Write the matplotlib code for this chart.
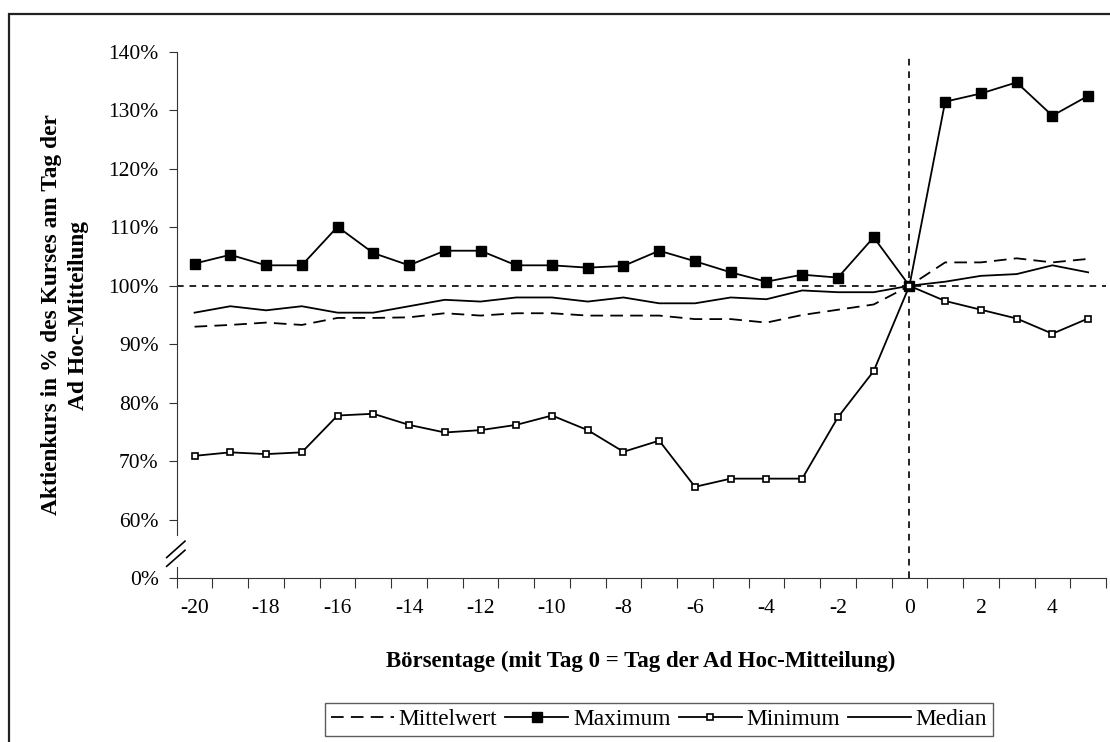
import matplotlib
matplotlib.use("Agg")
import matplotlib.pyplot as plt
from matplotlib.patches import Rectangle
from matplotlib.lines import Line2D
import matplotlib.transforms as mtransforms

plt.rcParams['font.family'] = ['Liberation Serif', 'DejaVu Serif']

days = list(range(-20, 6))
mittelwert = [93.0, 93.3, 93.7, 93.3, 94.5, 94.5, 94.6, 95.3, 94.9, 95.3, 95.3,
              94.9, 94.9, 94.9, 94.3, 94.3, 93.7, 95.0, 95.9, 96.8, 100.0,
              104.0, 104.0, 104.7, 104.0, 104.6]
maximum = [103.8, 105.3, 103.5, 103.5, 110.1, 105.6, 103.5, 106.0, 106.0, 103.5, 103.5,
           103.1, 103.4, 106.0, 104.2, 102.3, 100.7, 101.9, 101.4, 108.3, 100.0,
           131.5, 132.9, 134.8, 129.1, 132.5]
minimum = [70.9, 71.5, 71.2, 71.5, 77.8, 78.1, 76.2, 74.9, 75.3, 76.2, 77.8,
           75.3, 71.6, 73.5, 65.6, 67.0, 67.0, 67.0, 77.5, 85.4, 100.0,
           97.4, 95.9, 94.4, 91.8, 94.4]
median = [95.4, 96.5, 95.8, 96.5, 95.4, 95.4, 96.5, 97.6, 97.3, 98.0, 98.0,
          97.3, 98.0, 97.0, 97.0, 98.0, 97.7, 99.2, 98.9, 98.9, 100.0,
          100.7, 101.7, 102.0, 103.5, 102.3]

ytick_vals = [50, 60, 70, 80, 90, 100, 110, 120, 130, 140]
ytick_labels = ['0%', '60%', '70%', '80%', '90%', '100%', '110%', '120%', '130%', '140%']
xtick_label_days = [-20, -18, -16, -14, -12, -10, -8, -6, -4, -2, 0, 2, 4]

W, H = 1110, 742
fig = plt.figure(figsize=(W / 100, H / 100), dpi=100)
fig.patch.set_facecolor('white')

# outer border
fig.add_artist(Rectangle((9 / W, -0.05), 1.2, 1 - 14 / H + 0.05, transform=fig.transFigure,
                         fill=False, edgecolor='#222222', linewidth=1.6))

ax = fig.add_axes([176.7 / W, 1 - 578 / H, (1106 - 176.7) / W, (578 - 52) / H])
ax.set_xlim(-20.5, 5.5)
ax.set_ylim(50, 140)

ax.axhline(100, color='black', lw=1.2, ls=(0, (4, 3.5)), zorder=1)
ax.axvline(0, ymin=0, ymax=0.99, color='black', lw=1.2, ls=(0, (4, 3.5)), zorder=1)

lw = 1.3
ax.plot(days, mittelwert, color='black', lw=lw, ls=(0, (7, 4)), zorder=3, label='Mittelwert')
ax.plot(days, maximum, color='black', lw=lw, marker='s', ms=6.5, mfc='black', mec='black',
        zorder=4, label='Maximum')
ax.plot(days, minimum, color='black', lw=lw, marker='s', ms=5, mfc='white', mec='black',
        mew=1.2, zorder=4, label='Minimum')
ax.plot(days, median, color='black', lw=lw, zorder=3, label='Median')

for s in ['top', 'right']:
    ax.spines[s].set_visible(False)
ax.spines['left'].set_bounds(57.4, 140)
ax.spines['left'].set_color('#333333')
ax.spines['bottom'].set_color('#333333')

# lower stub of broken y-axis and break marks
tr = mtransforms.blended_transform_factory(ax.transAxes, ax.transData)
ax.add_line(Line2D([0, 0], [50, 51.8], transform=tr, color='#333333', lw=0.8, clip_on=False))
ax.add_line(Line2D([-0.0108, 0.0089], [53.5, 56.3], transform=tr, color='black', lw=1.2, clip_on=False))
ax.add_line(Line2D([-0.0108, 0.0089], [52.0, 54.75], transform=tr, color='black', lw=1.2, clip_on=False))

ax.set_yticks(ytick_vals)
ax.set_yticklabels(ytick_labels)
ax.tick_params(axis='y', direction='out', length=6, width=0.8, pad=7, labelsize=15.5,
               colors='#333333', labelcolor='black')

major_x = [d - 0.5 for d in days] + [days[-1] + 0.5]
ax.set_xticks(major_x)
ax.set_xticklabels([''] * len(major_x))
ax.set_xticks(xtick_label_days, minor=True)
ax.set_xticklabels([str(d) for d in xtick_label_days], minor=True)
ax.tick_params(axis='x', which='major', direction='out', length=7, width=0.8, colors='#333333')
ax.tick_params(axis='x', which='minor', length=0, pad=15, labelsize=15.5)

fig.text(641 / W, 1 - 661 / H, 'Börsentage (mit Tag 0 = Tag der Ad Hoc-Mitteilung)',
         ha='center', va='center', fontsize=16.5, fontweight='bold')
fig.text(65 / W, 1 - 315 / H, 'Aktienkurs in % des Kurses am Tag der\nAd Hoc-Mitteilung',
         ha='center', va='center', rotation=90, fontsize=16.8, fontweight='bold',
         multialignment='center', linespacing=1.4)

handles, labels = ax.get_legend_handles_labels()
leg = fig.legend(handles, labels, loc='center', bbox_to_anchor=(659 / W, 1 - 719.5 / H),
                 ncol=4, frameon=True, fancybox=False, edgecolor='#333333', fontsize=16.8,
                 handlelength=2.7, handletextpad=0.2, columnspacing=0.35, borderpad=0.25,
                 borderaxespad=0)
leg.get_frame().set_linewidth(1.0)

fig.savefig('out.png', dpi=100, facecolor='white')
